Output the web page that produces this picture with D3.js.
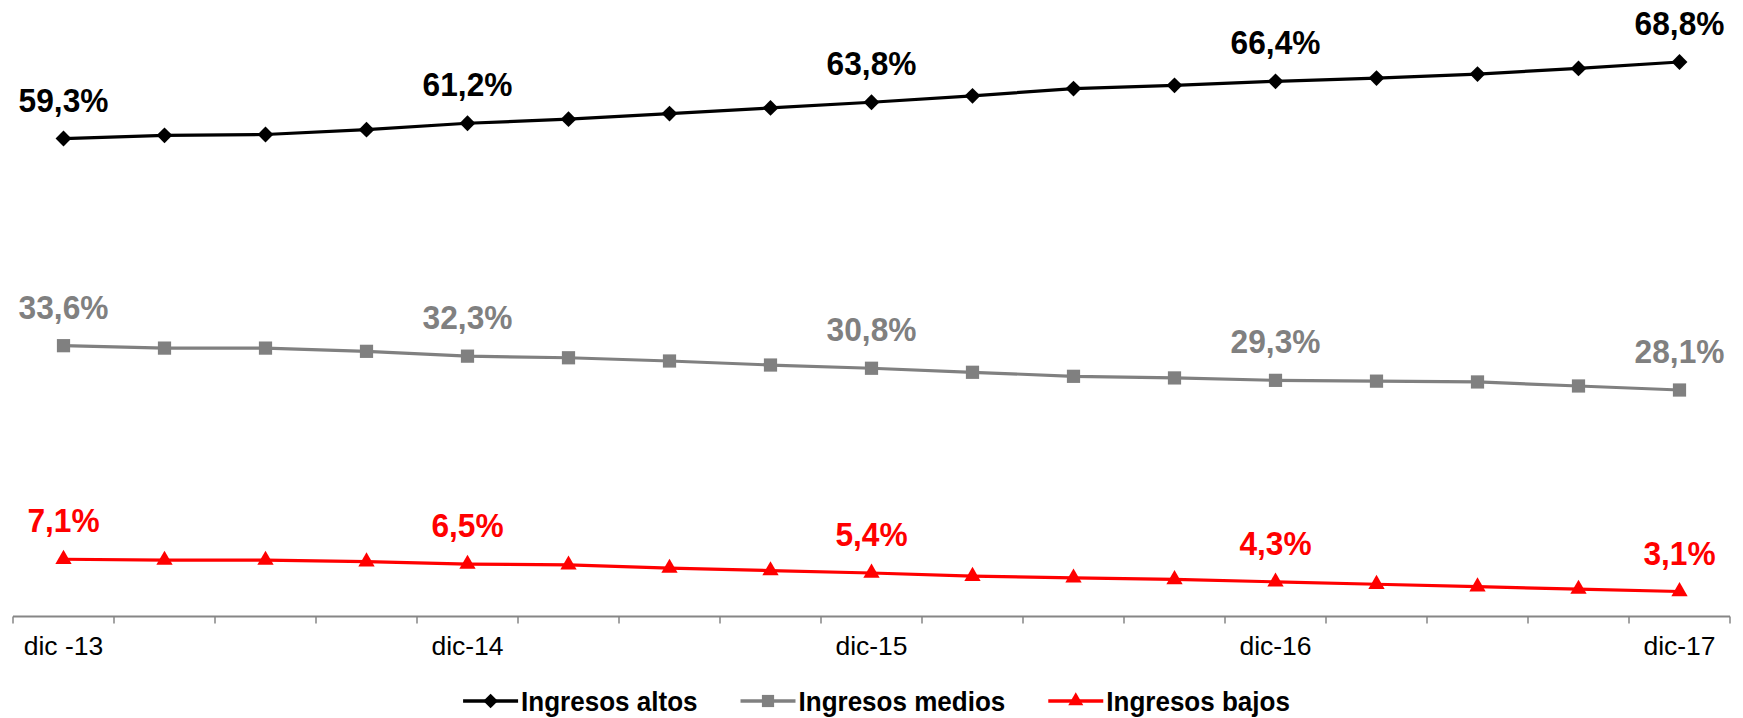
<!DOCTYPE html>
<html>
<head>
<meta charset="utf-8">
<script src="https://cdn.jsdelivr.net/npm/d3@7/dist/d3.min.js"></script>
<style>
  html, body { margin: 0; padding: 0; background: #fff; }
  svg { display: block; }
  text { font-family: "Liberation Sans", Arial, sans-serif; }
</style>
</head>
<body>
<svg id="chart" width="1743" height="718"></svg>
<script>
// ---- data ----
const categories = ["dic -13","mar-14","jun-14","sep-14","dic-14","mar-15","jun-15","sep-15","dic-15",
                    "mar-16","jun-16","sep-16","dic-16","mar-17","jun-17","sep-17","dic-17"];
const shownTickLabels = ["dic -13","dic-14","dic-15","dic-16","dic-17"];
const altos  = [59.3, 59.7, 59.8, 60.4, 61.2, 61.7, 62.4, 63.1, 63.8, 64.6, 65.5, 65.9, 66.4, 66.8, 67.3, 68.0, 68.8];
const medios = [33.6, 33.3, 33.3, 32.9, 32.3, 32.1, 31.7, 31.2, 30.8, 30.3, 29.8, 29.6, 29.3, 29.2, 29.1, 28.6, 28.1];
const bajos  = [7.1, 7.0, 7.0, 6.8, 6.5, 6.4, 6.0, 5.7, 5.4, 5.0, 4.8, 4.6, 4.3, 4.0, 3.7, 3.4, 3.1];
const labelledIdx = [0, 4, 8, 12, 16];
const seriesNames = ["Ingresos altos", "Ingresos medios", "Ingresos bajos"];

const series = [
  { name: seriesNames[0], values: altos,  color: "#000000", symbol: d3.symbolDiamond2, size: 160 },
  { name: seriesNames[1], values: medios, color: "#808080", symbol: d3.symbolSquare,   size: 175 },
  { name: seriesNames[2], values: bajos,  color: "#ff0000", symbol: d3.symbolTriangle, size: 115 }
];

const svg = d3.select("#chart");

const x = d3.scaleBand().domain(d3.range(categories.length)).range([13, 1730]).padding(0);
const y = d3.scaleLinear().domain([0, 75]).range([616.5, 12]);
const cx = i => x(i) + x.bandwidth() / 2;

// ---- axis ----
const axisG = svg.append("g");
const y0 = y(0);
axisG.append("line").attr("x1", x(0)).attr("x2", x(categories.length - 1) + x.bandwidth())
  .attr("y1", y0).attr("y2", y0).attr("stroke", "#868686").attr("stroke-width", 2);
const boundaries = d3.range(categories.length + 1).map(i => i < categories.length ? x(i) : x(i - 1) + x.bandwidth());
axisG.selectAll("line.tick").data(boundaries).join("line").attr("class", "tick")
  .attr("x1", d => d).attr("x2", d => d).attr("y1", y0).attr("y2", y0 + 7)
  .attr("stroke", "#868686").attr("stroke-width", 1.5);
axisG.selectAll("text.tl").data(categories.map((c, i) => ({ c, i })).filter(d => shownTickLabels.includes(d.c)))
  .join("text").attr("class", "tl")
  .attr("x", d => cx(d.i)).attr("y", 655)
  .attr("text-anchor", "middle").attr("font-size", 26.5).attr("fill", "#000")
  .text(d => d.c);

// ---- lines ----
const fmt = v => d3.format(".1f")(v).replace(".", ",") + "%";
series.forEach(s => {
  const line = d3.line().x((d, i) => cx(i)).y(d => y(d));
  svg.append("path").datum(s.values).attr("d", line)
    .attr("fill", "none").attr("stroke", s.color).attr("stroke-width", 3.2).attr("stroke-linejoin", "round");
  svg.append("g").selectAll("path").data(s.values).join("path")
    .attr("d", d3.symbol().type(s.symbol).size(s.size))
    .attr("transform", (d, i) => `translate(${cx(i)},${y(d)})`)
    .attr("fill", s.color);
  svg.append("g").selectAll("text").data(labelledIdx).join("text")
    .attr("transform", i => `translate(${cx(i)},${y(s.values[i]) - 27}) scale(0.96,1)`)
    .attr("text-anchor", "middle").attr("font-size", 33).attr("font-weight", "bold")
    .attr("fill", s.color)
    .text(i => fmt(s.values[i]));
});

// ---- legend ----
const legend = svg.append("g");
const items = [];
const sx = 0.93;
series.forEach(s => {
  const g = legend.append("g");
  g.append("line").attr("x1", 0).attr("x2", 55).attr("y1", 0).attr("y2", 0)
    .attr("stroke", s.color).attr("stroke-width", 3.4);
  g.append("path").attr("d", d3.symbol().type(s.symbol).size(s.size * 0.85))
    .attr("transform", "translate(27.5,0)").attr("fill", s.color);
  const t = g.append("text").attr("transform", `translate(58,9.5) scale(${sx},1)`)
    .attr("font-size", 28).attr("font-weight", "bold").attr("fill", "#000").text(s.name);
  const w = 58 + t.node().getComputedTextLength() * sx;
  items.push({ g, w });
});
const gap = 43;
const total = d3.sum(items, d => d.w) + gap * (items.length - 1);
let start = 876.5 - total / 2;
items.forEach(it => {
  it.g.attr("transform", `translate(${start},701)`);
  start += it.w + gap;
});
</script>
</body>
</html>
